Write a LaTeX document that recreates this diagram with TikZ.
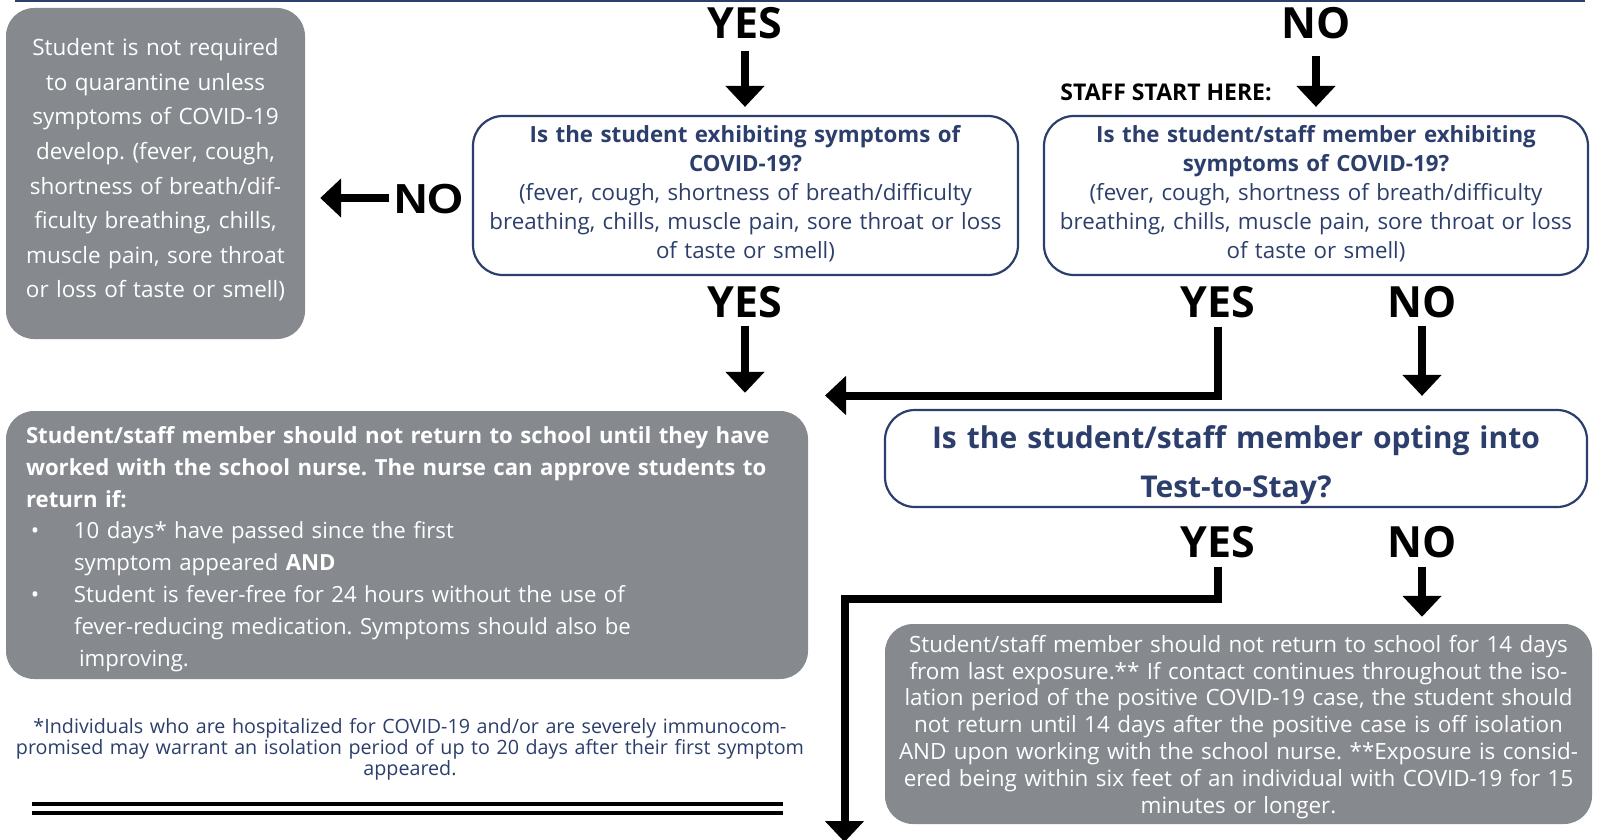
\documentclass[tikz,border=0pt]{standalone}
\usepackage{fontspec}
\setmainfont{Open Sans}
\newfontfamily\arialfont{Liberation Sans}
\usetikzlibrary{arrows.meta}
\definecolor{navy}{HTML}{2C3E6C}
\definecolor{boxgray}{HTML}{868A8F}
\frenchspacing
\tikzset{
  graybox/.style={fill=boxgray, draw=none, rounded corners=28pt, inner sep=0pt},
  bluebox/.style={fill=white, draw=navy, line width=2.2pt, rounded corners=30pt, inner sep=0pt},
  txt/.style={inner sep=0pt, align=center},
  yn/.style={font=\fontsize{43}{43}\selectfont\bfseries, inner sep=0pt, text height=29pt, text depth=0pt},
  arr/.style={line width=8pt, -{Triangle[width=38pt,length=21pt]}},
  body/.style={font=\fontsize{22.3}{29}\selectfont}
}
\begin{document}
\begin{tikzpicture}[x=1pt,y=-1pt]
\useasboundingbox (0,0) rectangle (1603,840);
% top rule
\draw[navy, line width=2.5pt] (15,1) -- (1585,1);

% box shapes
\node[graybox, minimum width=299pt, minimum height=331pt] (box0) at (155.5,173.5) {};
\node[bluebox, minimum width=545pt, minimum height=159pt] (box1) at (745.5,195.5) {};
\node[bluebox, minimum width=544pt, minimum height=159pt] (box2) at (1316,195.5) {};
\node[bluebox, minimum width=702pt, minimum height=97pt] (box3) at (1236,458.5) {};
\node[graybox, minimum width=707pt, minimum height=200pt] (box4) at (1238.5,724) {};
\node[graybox, minimum width=802pt, minimum height=268pt] (box5) at (407,545) {};

% box texts
\node[txt, text=white, text width=280pt, font=\fontsize{22.5}{34.6}\selectfont] (t0) at (155.5,170)
  {Student is not required\\ to quarantine unless\\ symptoms of COVID-19\\ develop. (fever, cough,\\ shortness of breath/dif-\\ ficulty breathing, chills,\\ muscle pain, sore throat\\ or loss of taste or smell)};

\node[txt, body, text=navy, text width=530pt] (t1) at (745.5,193.5)
  {\textbf{Is the student exhibiting symptoms of}\\ \textbf{COVID-19?}\\ (fever, cough, shortness of breath/difficulty\\ breathing, chills, muscle pain, sore throat or loss\\ of taste or smell)};

\node[txt, body, text=navy, text width=530pt] (t2) at (1316,193.5)
  {\textbf{Is the student/staff member exhibiting}\\ \textbf{symptoms of COVID-19?}\\ (fever, cough, shortness of breath/difficulty\\ breathing, chills, muscle pain, sore throat or loss\\ of taste or smell)};

\node[txt, text=navy, font=\fontsize{30}{49}\selectfont\bfseries, text width=690pt] (t3) at (1236,465.5)
  {Is the student/staff member opting into\\ Test-to-Stay?};

\node[txt, text=white, font=\fontsize{22.4}{26.9}\selectfont, text width=700pt] (t4) at (1238.5,727)
  {Student/staff member should not return to school for 14 days\\ from last exposure.** If contact continues throughout the iso-\\ lation period of the positive COVID-19 case, the student should\\ not return until 14 days after the positive case is off isolation\\ AND upon working with the school nurse. **Exposure is consid-\\ ered being within six feet of an individual with COVID-19 for 15\\ minutes or longer.};

\node[inner sep=0pt, align=left, text=white, font=\fontsize{22.2}{31.8}\selectfont, text width=762pt] (t5) at (407,549)
  {\textbf{Student/staff member should not return to school until they have}\\
   \textbf{worked with the school nurse. The nurse can approve students to}\\
   \textbf{return if:}\\
   \makebox[48pt][l]{\hspace{5pt}•}10 days* have passed since the first\\
   \hspace*{48pt}symptom appeared \textbf{AND}\\
   \makebox[48pt][l]{\hspace{5pt}•}Student is fever-free for 24 hours without the use of\\
   \hspace*{48pt}fever-reducing medication. Symptoms should also be\\
   \hspace*{53pt}improving.};

% footnote
\node[txt, text=navy, text width=880pt, font=\fontsize{19.7}{21}\selectfont] (foot) at (410,749)
  {*Individuals who are hospitalized for COVID-19 and/or are severely immunocom-\\ promised may warrant an isolation period of up to 20 days after their first symptom\\ appeared.};

% double rule
\draw[black, line width=4.3pt] (32,804) -- (783,804);
\draw[black, line width=4.3pt] (32,813) -- (783,813);

% labels
\node[yn] (yes1) at (745,24) {YES};
\node[yn] (no1) at (1316,24) {NO};
\node[inner sep=0pt, font=\fontsize{23}{23}\selectfont\bfseries] (staff) at (1166,92) {STAFF START HERE:};
\node[inner sep=0pt, text height=30pt, text depth=0pt, font=\arialfont\fontsize{42}{42}\selectfont\bfseries] (noL) at (429,198) {\scalebox{1.1}[1]{NO}};
\node[yn] (yes2) at (745,303) {YES};
\node[yn] (yes3) at (1218,303) {YES};
\node[yn] (no2) at (1422,303) {NO};
\node[yn] (yes4) at (1218,543) {YES};
\node[yn] (no3) at (1422,543) {NO};

\coordinate (tipL) at (825,395.5);
\coordinate (endB) at (844.5,842);

% connectors
\draw[arr, shorten <=12pt, shorten >=8pt] (yes1.south) -- (yes1.south |- box1.north);
\draw[arr, shorten <=17pt, shorten >=8pt] (no1.south) -- (no1.south |- box2.north);
\draw[arr, shorten <=5pt, shorten >=15pt] (noL.west) -- (noL.west -| box0.east);
\draw[arr, shorten <=8pt, shorten >=18pt] (yes2.south) -- (yes2.south |- box5.north);
\draw[arr, shorten <=9pt] (yes3.south) |- (tipL);
\draw[arr, shorten <=8pt, shorten >=13pt] (no2.south) -- (no2.south |- box3.north);
\draw[arr, shorten <=9pt] (yes4.south) |- (844.5,599) -- (endB);
\draw[arr, shorten <=9pt, shorten >=7pt] (no3.south) -- (no3.south |- box4.north);
\end{tikzpicture}
\end{document}
